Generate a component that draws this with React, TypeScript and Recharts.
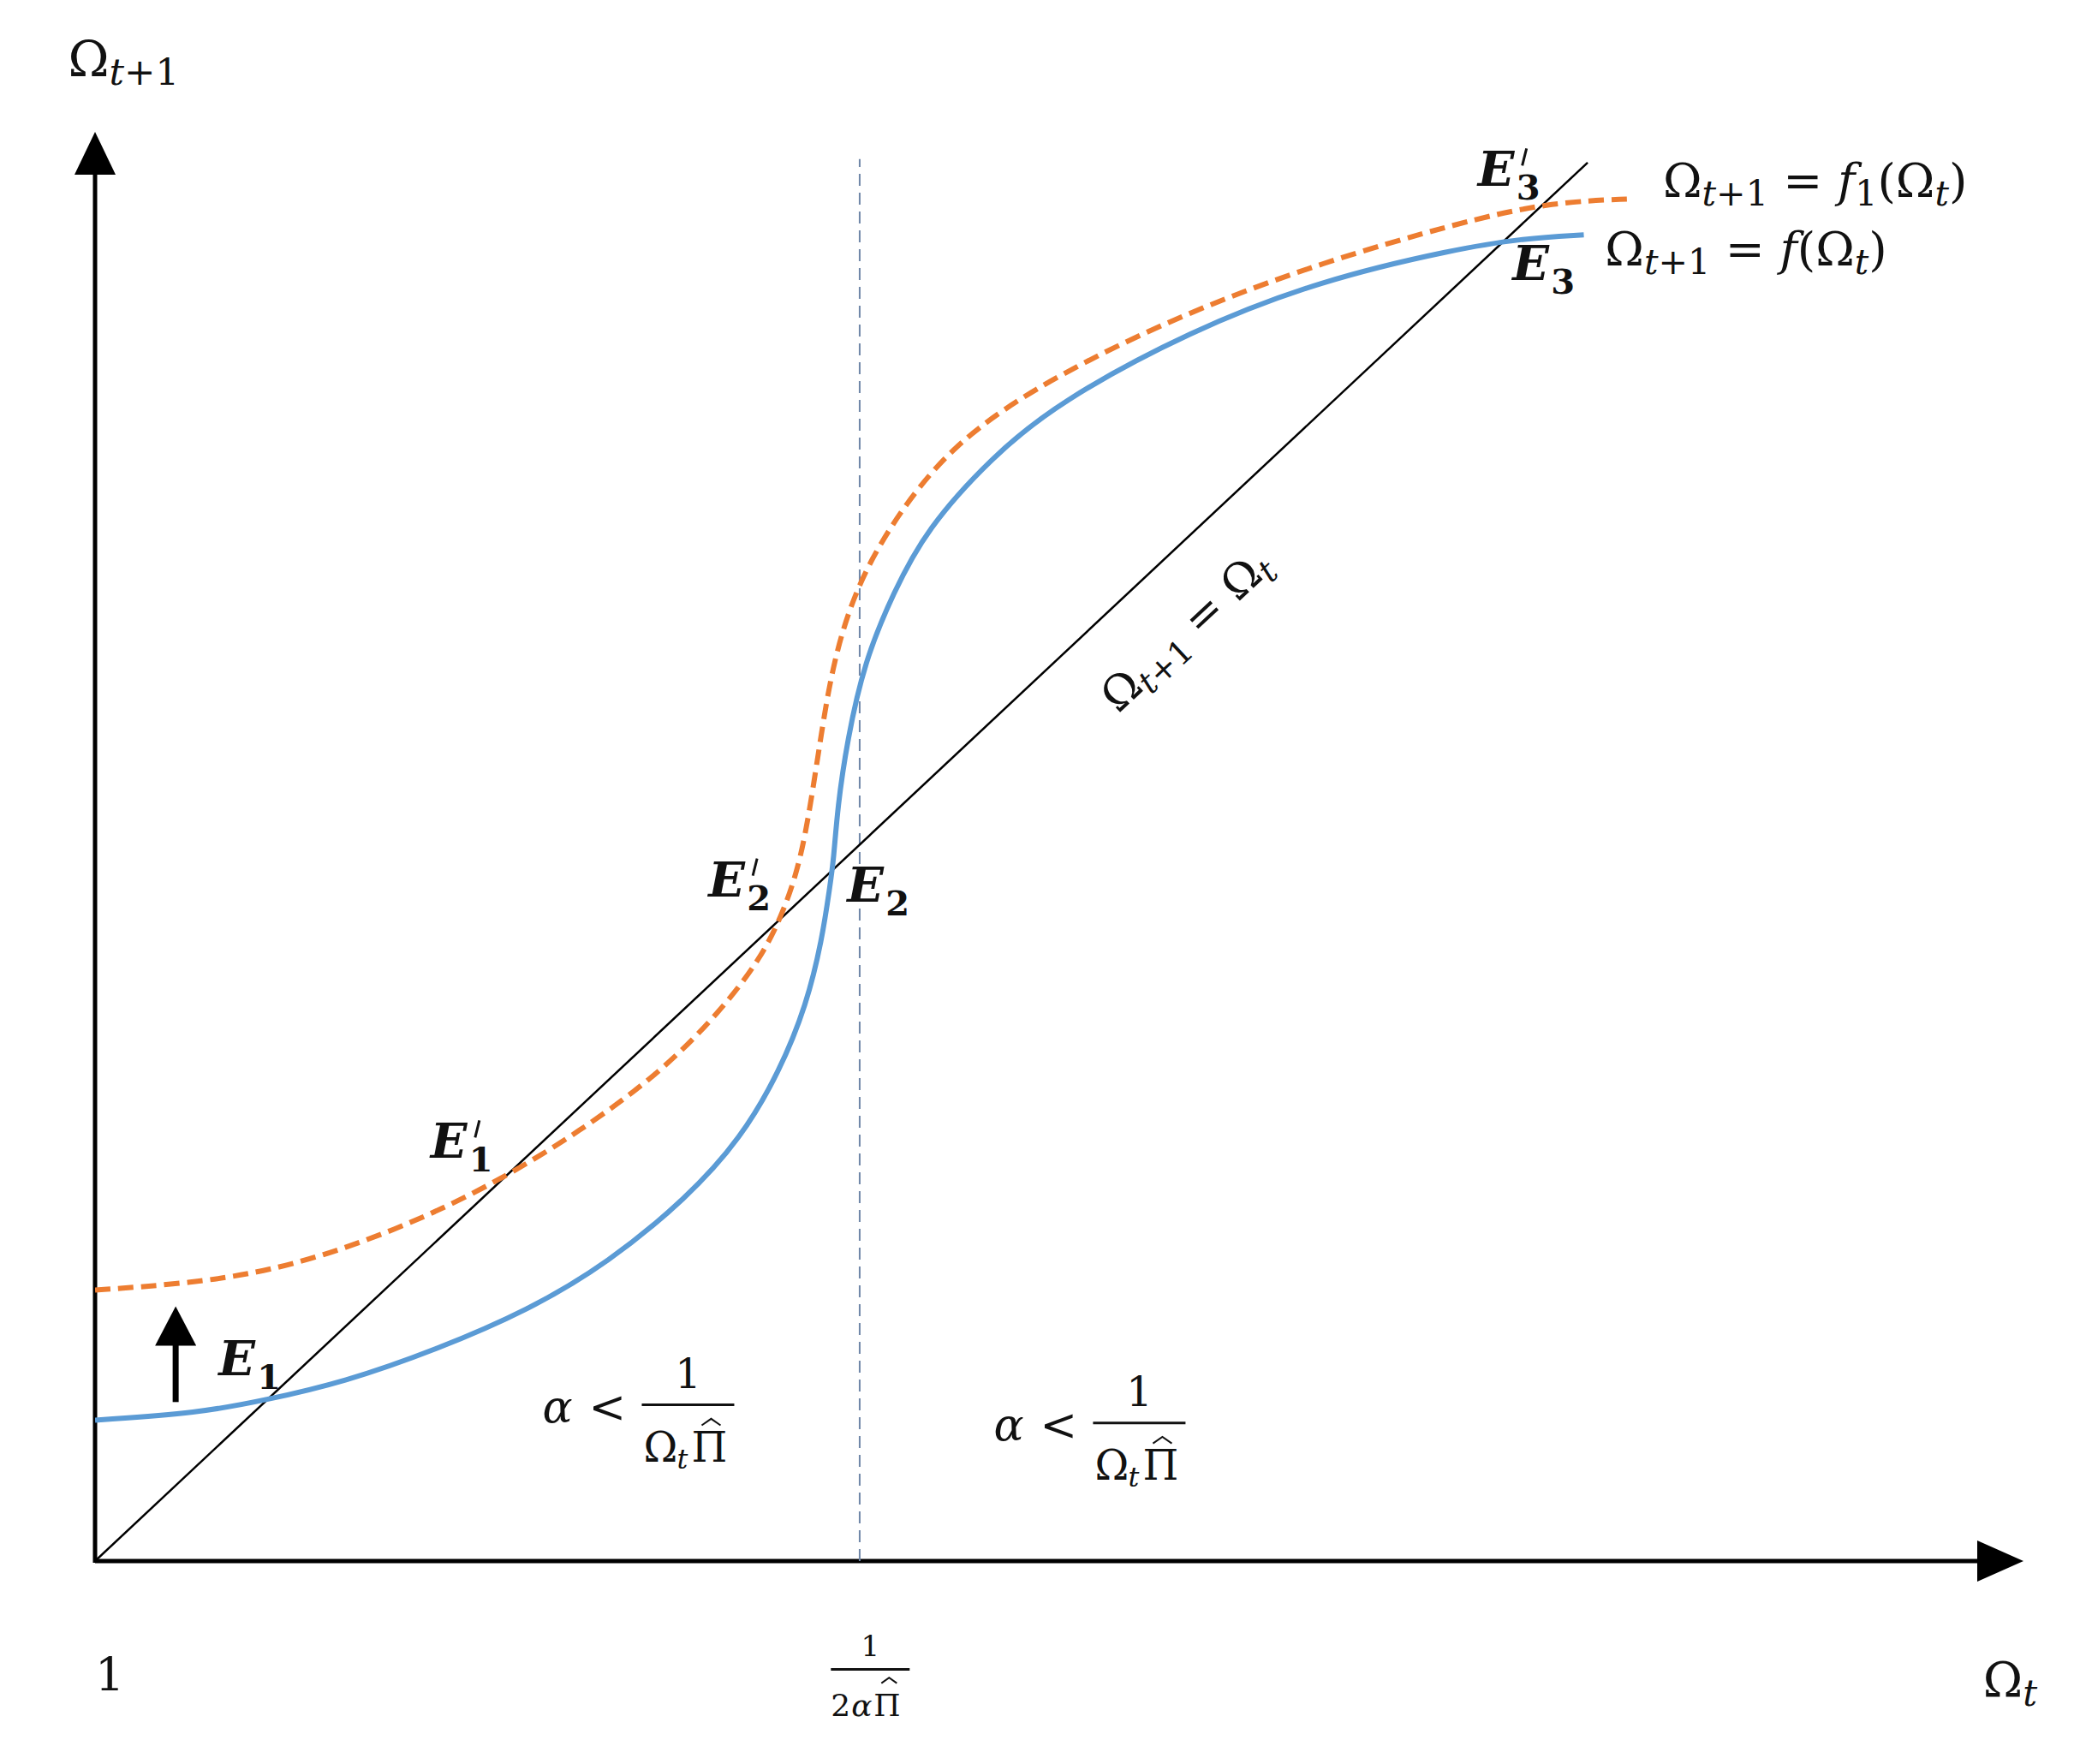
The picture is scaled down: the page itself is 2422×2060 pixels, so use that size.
import React from 'react';
import { LineChart, Line, XAxis, YAxis, ReferenceLine, ReferenceDot } from 'recharts';

// Ω_{t+1} = f(Ω_t), solid blue
const fCurve = [
  { x: 0, y: 0.78 }, { x: 0.54, y: 0.82 }, { x: 0.88, y: 0.89 }, { x: 1.29, y: 0.99 },
  { x: 1.77, y: 1.17 }, { x: 2.25, y: 1.39 }, { x: 2.66, y: 1.65 }, { x: 3.07, y: 2.01 },
  { x: 3.35, y: 2.34 }, { x: 3.55, y: 2.71 }, { x: 3.69, y: 3.08 }, { x: 3.77, y: 3.44 },
  { x: 3.81, y: 3.73 }, { x: 3.83, y: 3.88 }, { x: 3.85, y: 4.17 }, { x: 3.9, y: 4.54 },
  { x: 3.99, y: 4.98 }, { x: 4.14, y: 5.36 }, { x: 4.31, y: 5.71 }, { x: 4.65, y: 6.11 },
  { x: 4.99, y: 6.41 }, { x: 5.68, y: 6.81 }, { x: 6.36, y: 7.09 }, { x: 7.05, y: 7.26 },
  { x: 7.4, y: 7.32 }, { x: 7.72, y: 7.34 }
];

// Ω_{t+1} = f1(Ω_t), dashed orange (shifted up)
const f1Curve = [
  { x: 0, y: 1.5 }, { x: 0.54, y: 1.54 }, { x: 1.02, y: 1.63 }, { x: 1.56, y: 1.83 },
  { x: 2.04, y: 2.07 }, { x: 2.52, y: 2.38 }, { x: 2.94, y: 2.71 }, { x: 3.24, y: 3.04 },
  { x: 3.45, y: 3.33 }, { x: 3.57, y: 3.59 }, { x: 3.66, y: 3.88 }, { x: 3.72, y: 4.25 },
  { x: 3.77, y: 4.61 }, { x: 3.83, y: 4.98 }, { x: 3.93, y: 5.34 }, { x: 4.1, y: 5.7 },
  { x: 4.44, y: 6.19 }, { x: 4.99, y: 6.57 }, { x: 5.68, y: 6.92 }, { x: 6.37, y: 7.19 },
  { x: 7.05, y: 7.4 }, { x: 7.53, y: 7.52 }, { x: 7.98, y: 7.54 }
];

// 45 degree line Ω_{t+1} = Ω_t
const diagonal = [{ x: 0, y: 0 }, { x: 7.74, y: 7.74 }];

// 1 / (2αΠ̂)
const threshold = 3.965;
const xMax = 10;
const yMax = 8;

const eqLabels = [
  { sub: '1', prime: false, x: 0.64, y: 1.03 },
  { sub: '1', prime: true, x: 1.74, y: 2.23 },
  { sub: '2', prime: true, x: 3.18, y: 3.68 },
  { sub: '2', prime: false, x: 3.9, y: 3.65 },
  { sub: '3', prime: true, x: 7.17, y: 7.61 },
  { sub: '3', prime: false, x: 7.35, y: 7.09 }
];

const SERIF = '"DejaVu Serif", "Liberation Serif", serif';
const INK = '#111';

const hat = (x: number, y: number, w: number) => (
  <polyline points={`${x - w / 2},${y} ${x},${y - w * 0.35} ${x + w / 2},${y}`} fill="none" stroke={INK} strokeWidth={2} />
);

const EqLabel = ({ cx, cy, sub, prime }: any) => (
  <g>
    <text x={cx} y={cy} fill={INK} fontFamily={SERIF} fontWeight="bold" fontSize={56}>
      <tspan fontStyle="italic">E</tspan>
      <tspan x={cx + 45} y={cy + 16} fontSize={40}>{sub}</tspan>
    </text>
    {prime && <line x1={cx + 52} y1={cy - 24} x2={cx + 57} y2={cy - 44} stroke={INK} strokeWidth={3} />}
  </g>
);

const Fraction = ({ cx, cy }: any) => (
  // cx, cy: start of α, on the baseline
  <g fill={INK} fontFamily={SERIF}>
    <text x={cx} y={cy} fontSize={52}>
      <tspan fontStyle="italic">α</tspan>
      <tspan x={cx + 54}>&lt;</tspan>
    </text>
    <line x1={cx + 116} x2={cx + 224} y1={cy - 20} y2={cy - 20} stroke={INK} strokeWidth={3} />
    <text x={cx + 170} y={cy - 40} fontSize={48} textAnchor="middle">1</text>
    <text x={cx + 118} y={cy + 46} fontSize={48}>
      <tspan>Ω</tspan>
      <tspan x={cx + 157} y={cy + 54} fontSize={32} fontStyle="italic">t</tspan>
      <tspan x={cx + 174} y={cy + 46}>Π</tspan>
    </text>
    {hat(cx + 197, cy + 4, 22)}
  </g>
);

const TickFraction = ({ cx, cy }: any) => (
  // cx, cy: centre of fraction bar
  <g fill={INK} fontFamily={SERIF}>
    <text x={cx} y={cy - 16} fontSize={34} textAnchor="middle">1</text>
    <line x1={cx - 46} x2={cx + 46} y1={cy} y2={cy} stroke={INK} strokeWidth={3} />
    <text x={cx - 46} y={cy + 54} fontSize={36}>
      <tspan>2</tspan>
      <tspan x={cx - 22} fontStyle="italic">α</tspan>
      <tspan x={cx + 4}>Π</tspan>
    </text>
    {hat(cx + 22, cy + 16, 18)}
  </g>
);

const OmegaNext = ({ x, y, size, tail }: any) => (
  <text x={x} y={y} fontFamily={SERIF} fontSize={size} fill={INK} style={{ whiteSpace: 'pre' }}>
    <tspan>Ω</tspan>
    <tspan fontSize={size * 0.75} dy={size * 0.18} fontStyle="italic">t</tspan>
    <tspan fontSize={size * 0.75}>+1</tspan>
    {tail}
  </text>
);

const curveLabel = (f1: boolean) => ({ cx, cy }: any) => (
  <OmegaNext
    x={cx}
    y={cy}
    size={55}
    tail={[
      <tspan key="eq" dy={-10}> = </tspan>,
      <tspan key="f" fontStyle="italic">f</tspan>,
      f1 ? <tspan key="s" fontSize={41} dy={10}>1</tspan> : null,
      <tspan key="p" dy={f1 ? -10 : 0}>(Ω</tspan>,
      <tspan key="t" fontSize={41} dy={10} fontStyle="italic">t</tspan>,
      <tspan key="c" dy={-10}>)</tspan>
    ]}
  />
);

const App = () => (
  <div style={{ position: 'absolute', left: 0, top: 0, width: 2422, height: 2060, background: '#fff' }}>
    <LineChart width={2422} height={2060} margin={{ top: 135, right: 59, bottom: 237, left: 111 }}>
      <XAxis type="number" dataKey="x" domain={[0, xMax]} allowDataOverflow hide />
      <YAxis type="number" dataKey="y" domain={[0, yMax]} allowDataOverflow hide />

      {/* axes with arrow heads */}
      <ReferenceLine segment={[{ x: 0, y: 0 }, { x: 9.78, y: 0 }]} stroke="#000" strokeWidth={5} ifOverflow="visible" />
      <ReferenceLine segment={[{ x: 0, y: -0.01 }, { x: 0, y: 7.7 }]} stroke="#000" strokeWidth={5} ifOverflow="visible" />
      <ReferenceDot x={xMax} y={0} r={0} ifOverflow="visible"
        shape={(p: any) => <polygon points={`${p.cx},${p.cy} ${p.cx - 54},${p.cy - 24} ${p.cx - 54},${p.cy + 24}`} fill="#000" />} />
      <ReferenceDot x={0} y={7.91} r={0} ifOverflow="visible"
        shape={(p: any) => <polygon points={`${p.cx},${p.cy} ${p.cx - 24},${p.cy + 50} ${p.cx + 24},${p.cy + 50}`} fill="#000" />} />

      {/* threshold */}
      <ReferenceLine segment={[{ x: threshold, y: 0 }, { x: threshold, y: 7.76 }]} stroke="#6f86a8" strokeWidth={2} strokeDasharray="14 8" ifOverflow="visible" />

      {/* upward shift arrow */}
      <ReferenceLine segment={[{ x: 0.418, y: 0.88 }, { x: 0.418, y: 1.25 }]} stroke="#000" strokeWidth={7} ifOverflow="visible" />
      <ReferenceDot x={0.418} y={1.41} r={0} ifOverflow="visible"
        shape={(p: any) => <polygon points={`${p.cx},${p.cy} ${p.cx - 24},${p.cy + 46} ${p.cx + 24},${p.cy + 46}`} fill="#000" />} />

      <Line data={diagonal} dataKey="y" type="linear" stroke="#000" strokeWidth={2.5} dot={false} activeDot={false} isAnimationActive={false} />
      <Line data={fCurve} dataKey="y" type="basis" stroke="#5b9bd5" strokeWidth={6} dot={false} activeDot={false} isAnimationActive={false} />
      <Line data={f1Curve} dataKey="y" type="basis" stroke="#ed7d31" strokeWidth={6} strokeDasharray="18 9" dot={false} activeDot={false} isAnimationActive={false} />

      {eqLabels.map((e, i) => (
        <ReferenceDot key={i} x={e.x} y={e.y} r={0} ifOverflow="visible"
          shape={(p: any) => <EqLabel cx={p.cx} cy={p.cy} sub={e.sub} prime={e.prime} />} />
      ))}

      <ReferenceDot x={8.13} y={7.55} r={0} ifOverflow="visible" shape={curveLabel(true)} />
      <ReferenceDot x={7.83} y={7.17} r={0} ifOverflow="visible" shape={curveLabel(false)} />

      <ReferenceDot x={5.71} y={5.09} r={0} ifOverflow="visible"
        shape={(p: any) => (
          <text x={p.cx} y={p.cy} transform={`rotate(-43 ${p.cx} ${p.cy})`} textAnchor="middle"
            fontFamily={SERIF} fontSize={52} fill={INK} style={{ whiteSpace: 'pre' }}>
            <tspan>Ω</tspan>
            <tspan fontSize={38} dy={10} fontStyle="italic">t</tspan>
            <tspan fontSize={38}>+1</tspan>
            <tspan dy={-10}> = Ω</tspan>
            <tspan fontSize={38} dy={10} fontStyle="italic">t</tspan>
          </text>
        )} />

      <ReferenceDot x={2.32} y={0.77} r={0} ifOverflow="visible" shape={(p: any) => <Fraction cx={p.cx} cy={p.cy} />} />
      <ReferenceDot x={4.66} y={0.67} r={0} ifOverflow="visible" shape={(p: any) => <Fraction cx={p.cx} cy={p.cy} />} />

      {/* axis titles and ticks */}
      <ReferenceDot x={-0.14} y={8.22} r={0} ifOverflow="visible"
        shape={(p: any) => <OmegaNext x={p.cx} y={p.cy} size={58} />} />
      <ReferenceDot x={9.79} y={-0.75} r={0} ifOverflow="visible"
        shape={(p: any) => (
          <text x={p.cx} y={p.cy} fontFamily={SERIF} fontSize={56} fill={INK}>
            <tspan>Ω</tspan>
            <tspan fontSize={42} dy={11} fontStyle="italic">t</tspan>
          </text>
        )} />
      <ReferenceDot x={0.0} y={-0.72} r={0} ifOverflow="visible"
        shape={(p: any) => <text x={p.cx} y={p.cy} fontFamily={SERIF} fontSize={54} fill={INK}>1</text>} />
      <ReferenceDot x={4.02} y={-0.6} r={0} ifOverflow="visible" shape={(p: any) => <TickFraction cx={p.cx} cy={p.cy} />} />
    </LineChart>
  </div>
);

export default App;
